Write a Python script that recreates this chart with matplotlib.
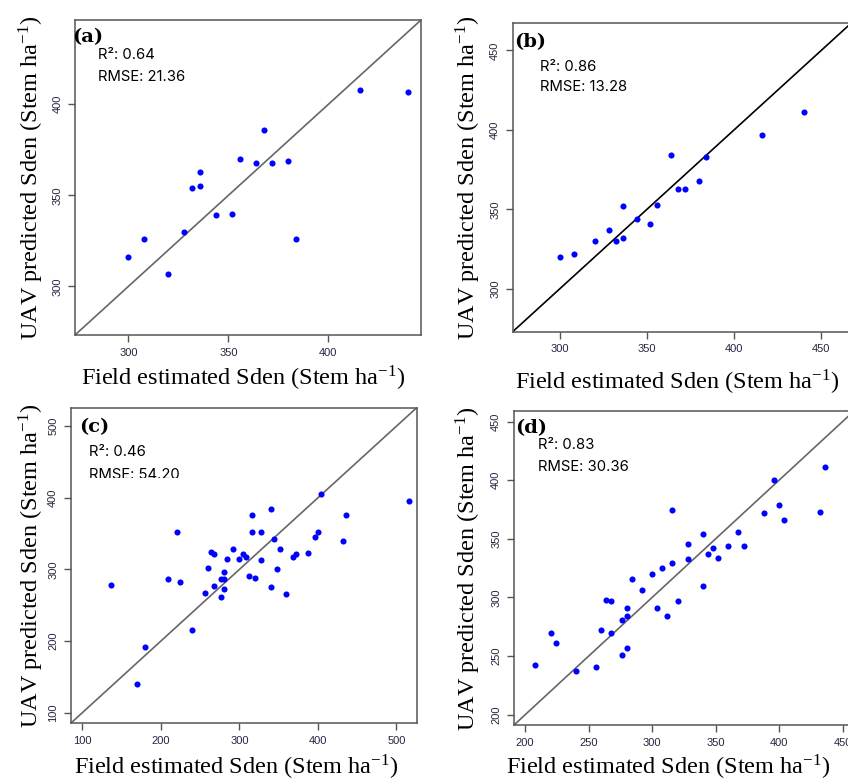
import numpy as np
import matplotlib
matplotlib.use("Agg")
import matplotlib.pyplot as plt
from matplotlib.patches import Rectangle

plt.rcParams['mathtext.fontset'] = 'stix'

# ---- data ----
a_field = [300, 308, 320, 328, 332, 336, 336, 344, 352, 356, 364, 368, 372, 380, 384, 416, 440]
a_uav = [316, 326, 307, 330, 354, 355, 363, 339, 340, 370, 368, 386, 368, 369, 326, 408, 407]

b_field = [300, 308, 320, 328, 332, 336, 336, 344, 352, 356, 364, 368, 372, 380, 384, 416, 440]
b_uav = [320, 322, 330, 337, 330, 332, 352, 344, 341, 353, 384, 363, 363, 368, 383, 397, 411]

c_field = [136, 169, 180, 209, 220, 224, 240, 256, 260, 264, 268, 268, 276, 276, 280,
           280, 280, 284, 292, 300, 304, 308, 312, 316, 316, 320, 328, 328, 340, 340,
           344, 348, 352, 360, 368, 372, 388, 396, 400, 404, 432, 436, 516]
c_uav = [278, 140, 191, 286, 352, 282, 215, 267, 302, 325, 322, 277, 287, 262, 297,
         286, 273, 314, 328, 314, 321, 317, 291, 376, 353, 288, 352, 313, 385, 276,
         343, 300, 328, 266, 318, 322, 323, 345, 353, 405, 340, 376, 396]

d_field = [208, 220, 224, 240, 256, 260, 264, 268, 268, 276, 276, 280, 280, 280, 284,
           292, 300, 304, 308, 312, 316, 316, 320, 328, 328, 340, 340, 344, 348, 352,
           360, 368, 372, 388, 396, 400, 404, 432, 436]
d_uav = [242, 270, 261, 237, 241, 272, 298, 297, 270, 281, 251, 291, 284, 257, 316,
         306, 320, 291, 325, 284, 375, 329, 297, 346, 333, 354, 310, 337, 342, 334,
         344, 356, 344, 372, 400, 379, 366, 373, 411]

panels = ['(a)', '(b)', '(c)', '(d)']
r2 = ['0.64', '0.86', '0.46', '0.83']
rmse = ['21.36', '13.28', '54.20', '30.36']
limits = [(273.3, 446.3), (273.0, 467.0), (85.0, 526.0), (191.0, 459.0)]
ticks = [[300, 350, 400], [300, 350, 400, 450], [100, 200, 300, 400, 500],
         [200, 250, 300, 350, 400, 450]]
line_colors = ['#666666', '#000000', '#666666', '#666666']

W, H = 848, 783
fig = plt.figure(figsize=(W / 100, H / 100), dpi=100)

# axes boxes in pixels: left, top, right, bottom
boxes = [(75, 20, 421, 335), (512.7, 23.3, 851, 331.7),
         (70.7, 407.7, 416.7, 723.3), (513.7, 411, 854, 725.3)]
ylab_x = [31, 468, 31, 468]
xlab_pos = [(243, 378), (677, 382), (236, 767), (668, 767)]
# annotation positions (pixels): tag left/center-y, stats left, r2 y, rmse y
tag_pos = [(72, 37), (514.5, 41.7), (79, 426.7), (515.5, 428)]
stat_pos = [(98.3, 55, 77), (540, 66.7, 87.3), (89.3, 452, 475), (538.3, 445, 467.3)]

series = [(a_field, a_uav), (b_field, b_uav), (c_field, c_uav), (d_field, d_uav)]

def fx(px):
    return px / W

def fy(py):
    return 1 - py / H

for i in range(4):
    l, t, r, b = boxes[i]
    ax = fig.add_axes([fx(l), fy(b), (r - l) / W, (b - t) / H])
    x, y = series[i]
    ax.axline((0, 0), slope=1, color=line_colors[i], lw=1.2, zorder=1)
    ax.plot(x, y, 'o', color='#0000ff', ms=4.4, mec='none', zorder=3)
    ax.set_xlim(limits[i])
    ax.set_ylim(limits[i])
    ax.set_xticks(ticks[i])
    ax.set_yticks(ticks[i])
    ax.tick_params(direction='out', length=5, width=1, color='#555555', pad=4,
                   labelsize=8, labelcolor='#262640')
    for lab in ax.get_xticklabels() + ax.get_yticklabels():
        lab.set_family('Liberation Sans')
    for lab in ax.get_yticklabels():
        lab.set_rotation(90)
        lab.set_va('center')
    for s in ax.spines.values():
        s.set_color('#555555')
        s.set_linewidth(1.1)

    fig.text(fx(ylab_x[i]), fy((t + b) / 2), 'UAV predicted Sden (Stem ha$^{\\mathregular{-1}}$)',
             rotation=90, ha='center', va='center', family='Liberation Serif', fontsize=17.5)
    fig.text(fx(xlab_pos[i][0]), fy(xlab_pos[i][1]), 'Field estimated Sden (Stem ha$^{\\mathregular{-1}}$)',
             ha='center', va='center', family='Liberation Serif', fontsize=17.5)

    fig.text(fx(tag_pos[i][0]), fy(tag_pos[i][1]), panels[i], ha='left', va='center',
             family='DejaVu Serif', fontweight='bold', fontsize=14)
    sx, ry, my = stat_pos[i]
    fig.text(fx(sx), fy(ry), 'R²: ' + r2[i], ha='left', va='center', family='Inter', fontsize=10.7)
    fig.text(fx(sx), fy(my), 'RMSE: ' + rmse[i], ha='left', va='center', family='Inter', fontsize=10.7)

    if i == 2:
        # the RMSE line of panel (c) is cut off at the bottom in the source figure
        fig.patches.append(Rectangle((fx(sx - 2), fy(488)), 100 / W, 10 / H,
                                     transform=fig.transFigure, facecolor='white',
                                     edgecolor='none', zorder=10))

fig.savefig('out.png', dpi=100)
